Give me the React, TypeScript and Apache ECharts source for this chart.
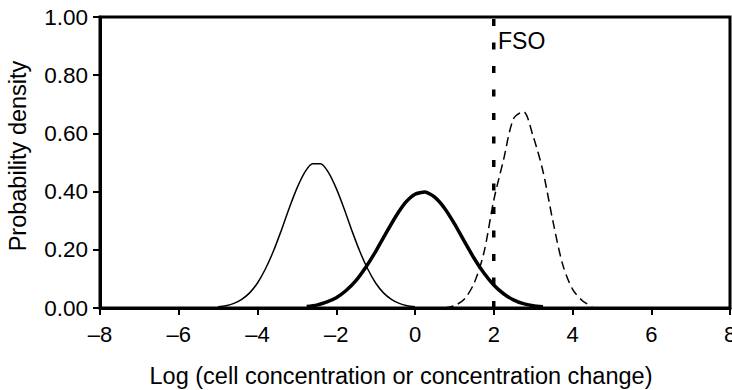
import React, { useEffect, useRef } from "react";
import * as echarts from "echarts";

const thinX = [-5.0, -4.8, -4.6, -4.4, -4.2, -4.0, -3.8, -3.6, -3.4, -3.2, -3.0, -2.8, -2.6, -2.4, -2.2, -2.0, -1.8, -1.6, -1.4, -1.2, -1.0, -0.8, -0.6, -0.4, -0.2, 0.0];
const thinY = [0.004, 0.008, 0.016, 0.030, 0.052, 0.086, 0.134, 0.194, 0.265, 0.341, 0.411, 0.466, 0.496, 0.496, 0.466, 0.411, 0.341, 0.265, 0.194, 0.134, 0.086, 0.052, 0.030, 0.016, 0.008, 0.004];

const thickX = [-2.75, -2.5, -2.25, -2.0, -1.75, -1.5, -1.25, -1.0, -0.75, -0.5, -0.25, 0.0, 0.25, 0.5, 0.75, 1.0, 1.25, 1.5, 1.75, 2.0, 2.25, 2.5, 2.75, 3.0, 3.25];
const thickY = [0.005, 0.010, 0.020, 0.035, 0.060, 0.094, 0.140, 0.194, 0.254, 0.312, 0.361, 0.391, 0.399, 0.381, 0.343, 0.290, 0.230, 0.171, 0.120, 0.079, 0.049, 0.028, 0.015, 0.008, 0.004];

const dashX = [0.75, 1.0, 1.25, 1.5, 1.75, 2.0, 2.25, 2.5, 2.75, 3.0, 3.25, 3.5, 3.75, 4.0, 4.25, 4.5];
const dashY = [0.0, 0.008, 0.03, 0.085, 0.19, 0.37, 0.51, 0.65, 0.675, 0.59, 0.47, 0.30, 0.15, 0.065, 0.025, 0.005];

const fsoX = 2;
const fsoLabel = "FSO";
const xTitle = "Log (cell concentration or concentration change)";
const yTitle = "Probability density";

const FONT = "'Liberation Sans', Arial, Helvetica, sans-serif";

const zip = (xs: number[], ys: number[]) => xs.map((x, i) => [x, ys[i]]);

export default function App() {
  const ref = useRef<HTMLDivElement>(null);
  useEffect(() => {
    if (!ref.current) return;
    const chart = echarts.init(ref.current, undefined, { renderer: "svg" });
    chart.setOption({
      animation: false,
      backgroundColor: "#fff",
      grid: {
        left: 100,
        top: 17,
        width: 630,
        height: 291,
        show: true,
        borderColor: "#000",
        borderWidth: 3,
        backgroundColor: "transparent",
        containLabel: false,
        outerBoundsMode: "none",
      },
      xAxis: {
        type: "value",
        min: -8,
        max: 8,
        interval: 2,
        splitLine: { show: false },
        axisLine: { show: true, onZero: false, lineStyle: { color: "#000", width: 3 } },
        axisTick: { show: true, length: 7, lineStyle: { color: "#000", width: 2 } },
        axisLabel: {
          color: "#000",
          fontSize: 22,
          fontFamily: FONT,
          margin: 15,
          formatter: (v: number) => (v < 0 ? "\u2013" + Math.abs(v) : String(v)),
        },
      },
      yAxis: {
        type: "value",
        min: 0,
        max: 1,
        interval: 0.2,
        splitLine: { show: false },
        axisLine: { show: true, onZero: false, lineStyle: { color: "#000", width: 3 } },
        axisTick: { show: true, length: 7, lineStyle: { color: "#000", width: 2 } },
        axisLabel: {
          color: "#000",
          fontSize: 22.5,
          fontFamily: FONT,
          margin: 12,
          formatter: (v: number) => v.toFixed(2),
        },
      },
      series: [
        {
          type: "line",
          data: zip(thinX, thinY),
          showSymbol: false,
          smooth: 0.3,
          lineStyle: { color: "#000", width: 1.5 },
        },
        {
          type: "line",
          data: zip(thickX, thickY),
          showSymbol: false,
          smooth: 0.2,
          lineStyle: { color: "#000", width: 3.5 },
        },
        {
          type: "line",
          data: zip(dashX, dashY),
          showSymbol: false,
          smooth: 0.3,
          lineStyle: { color: "#000", width: 1.5, type: [9, 5] },
        },
        {
          type: "line",
          data: [
            [fsoX, 0],
            [fsoX, 1],
          ],
          showSymbol: false,
          lineStyle: { color: "#000", width: 3.5, type: [7, 16.5], cap: "butt" },
        },
      ],
      graphic: [
        {
          type: "text",
          left: 498,
          top: 29,
          style: { text: fsoLabel, fontSize: 23, fontFamily: FONT, fill: "#000" },
        },
        {
          type: "text",
          x: 401,
          y: 376,
          style: {
            text: xTitle,
            fontSize: 23.5,
            fontFamily: FONT,
            fill: "#000",
            align: "center",
            verticalAlign: "middle",
          },
        },
        {
          type: "text",
          x: 18,
          y: 156,
          rotation: Math.PI / 2,
          style: {
            text: yTitle,
            fontSize: 23.5,
            fontFamily: FONT,
            fill: "#000",
            align: "center",
            verticalAlign: "middle",
          },
        },
      ],
    });
    return () => chart.dispose();
  }, []);
  return (
    <div
      ref={ref}
      style={{ position: "fixed", left: 0, top: 0, width: 732, height: 390, background: "#fff" }}
    />
  );
}
